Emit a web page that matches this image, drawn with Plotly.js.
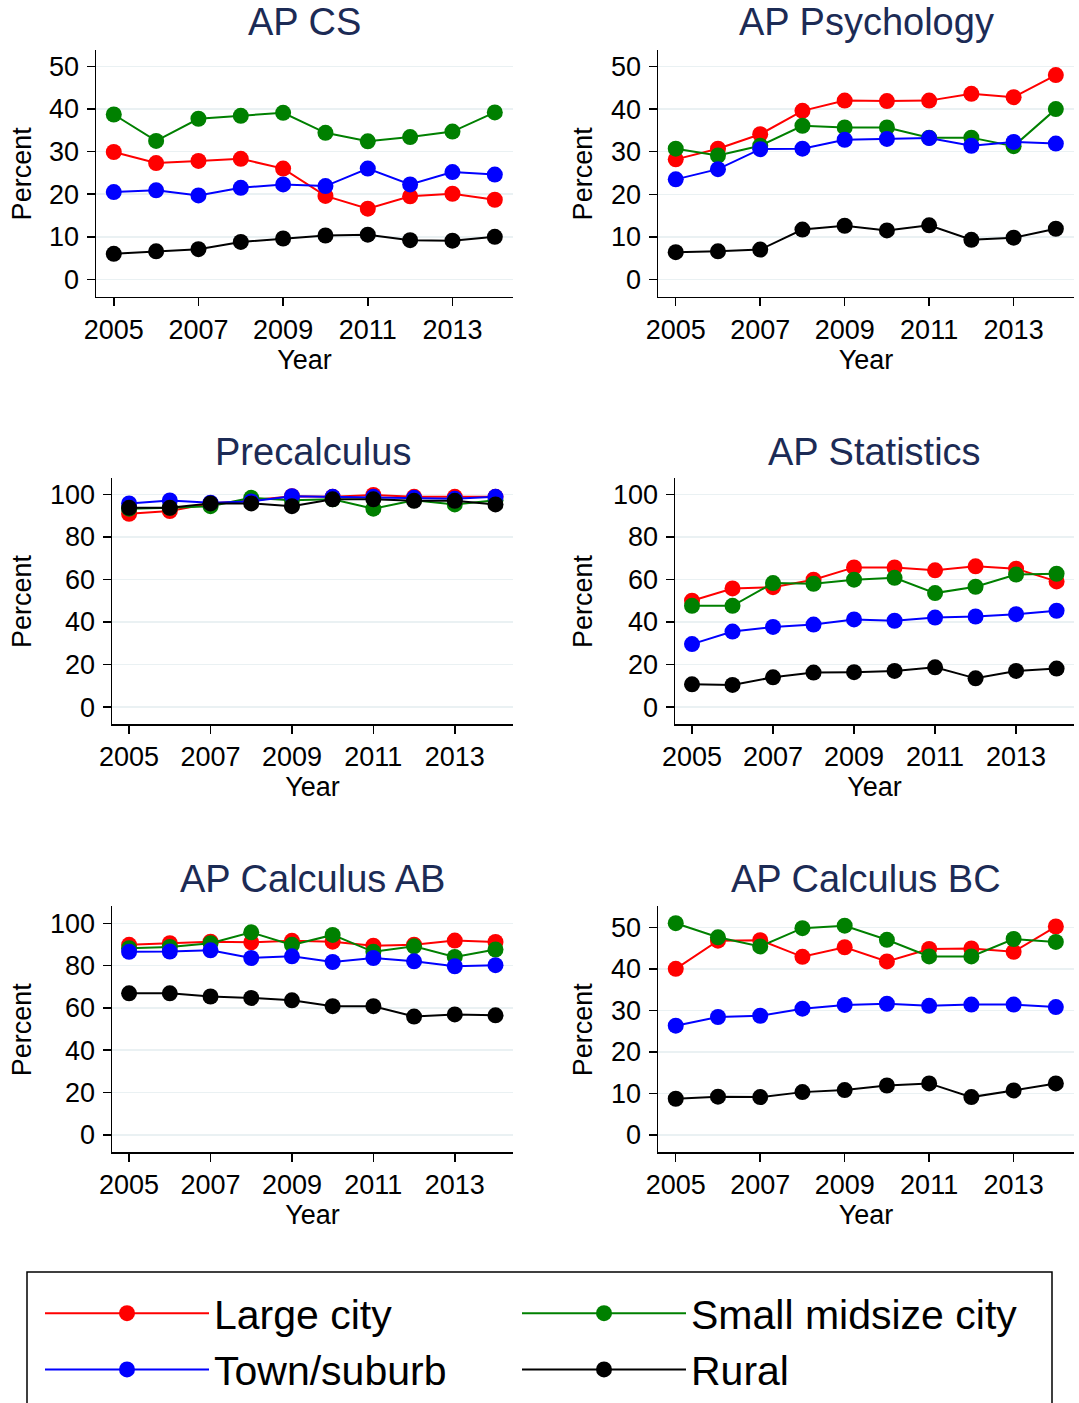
<!DOCTYPE html>
<html>
<head>
<meta charset="utf-8">
<script src="https://cdn.plot.ly/plotly-3.0.1.min.js"></script>
<style>html,body{margin:0;padding:0;background:#fff;}#chart{width:1079px;height:1403px;}</style>
</head>
<body>
<div id="chart"></div>
<script>
// ---------- data ----------
var years = [2005, 2006, 2007, 2008, 2009, 2010, 2011, 2012, 2013, 2014];
var seriesNames = ["Large city", "Small midsize city", "Town/suburb", "Rural"];
var seriesColors = ["#ff0000", "#008000", "#0000ff", "#000000"];
var seriesLegend = ["legend", "legend2", "legend", "legend2"];
var panelTitles = ["AP CS", "AP Psychology", "Precalculus", "AP Statistics", "AP Calculus AB", "AP Calculus BC"];

var csLarge = [29.9, 27.3, 27.8, 28.3, 26.0, 19.6, 16.6, 19.5, 20.1, 18.7];
var csSmall = [38.7, 32.5, 37.7, 38.4, 39.1, 34.4, 32.4, 33.4, 34.7, 39.2];
var csTown  = [20.5, 20.9, 19.7, 21.5, 22.3, 21.9, 26.0, 22.3, 25.2, 24.6];
var csRural = [6.0, 6.6, 7.1, 8.8, 9.6, 10.3, 10.5, 9.2, 9.1, 10.0];

var psyLarge = [28.2, 30.7, 34.1, 39.6, 42.0, 41.9, 42.0, 43.6, 42.8, 48.0];
var psySmall = [30.7, 29.1, 31.4, 36.1, 35.7, 35.7, 33.3, 33.3, 31.3, 40.0];
var psyTown  = [23.5, 25.9, 30.6, 30.7, 32.8, 33.0, 33.2, 31.4, 32.3, 31.9];
var psyRural = [6.4, 6.6, 7.0, 11.7, 12.6, 11.5, 12.7, 9.3, 9.8, 11.9];

var preLarge = [90.9, 92.2, 95.8, 97.2, 99.2, 98.9, 99.8, 98.9, 98.9, 98.9];
var preSmall = [93.3, 93.7, 94.5, 98.4, 97.3, 97.7, 93.3, 97.3, 95.3, 97.3];
var preTown  = [95.8, 97.2, 96.1, 96.7, 99.2, 98.9, 98.9, 98.4, 98.0, 98.9];
var preRural = [93.7, 93.7, 95.8, 95.8, 94.5, 97.7, 97.7, 97.0, 97.0, 95.3];

var statLarge = [50.0, 55.8, 56.4, 59.9, 65.7, 65.7, 64.3, 66.2, 65.1, 59.1];
var statSmall = [47.6, 47.6, 58.3, 58.0, 59.9, 60.8, 53.6, 56.6, 62.3, 62.7];
var statTown  = [29.6, 35.5, 37.7, 38.8, 41.2, 40.6, 42.1, 42.6, 43.7, 45.3];
var statRural = [10.7, 10.4, 14.0, 16.2, 16.4, 17.0, 18.7, 13.5, 17.0, 18.1];

var abLarge = [89.8, 90.6, 91.3, 91.0, 91.7, 91.3, 89.4, 89.9, 91.8, 91.2];
var abSmall = [88.2, 88.8, 90.6, 95.7, 89.8, 94.5, 86.5, 89.1, 84.1, 87.6];
var abTown  = [86.5, 86.6, 87.2, 83.6, 84.4, 81.7, 83.6, 82.0, 79.7, 80.2];
var abRural = [66.9, 66.9, 65.4, 64.7, 63.6, 60.8, 60.8, 55.9, 56.9, 56.5];

var bcLarge = [40.0, 46.8, 46.9, 42.9, 45.2, 41.8, 44.8, 44.9, 44.1, 50.2];
var bcSmall = [51.0, 47.6, 45.4, 49.8, 50.4, 47.0, 43.0, 43.0, 47.2, 46.5];
var bcTown  = [26.3, 28.4, 28.7, 30.4, 31.3, 31.6, 31.1, 31.4, 31.4, 30.8];
var bcRural = [8.7, 9.2, 9.1, 10.3, 10.8, 11.9, 12.4, 9.1, 10.7, 12.4];

var panelSeries = [
  [csLarge, csSmall, csTown, csRural],
  [psyLarge, psySmall, psyTown, psyRural],
  [preLarge, preSmall, preTown, preRural],
  [statLarge, statSmall, statTown, statRural],
  [abLarge, abSmall, abTown, abRural],
  [bcLarge, bcSmall, bcTown, bcRural]
];
var yTickStep = [10, 10, 20, 20, 20, 10];
var yRanges = [[-4.08, 53.85], [-4.09, 53.9], [-8.2, 107.9], [-8.2, 107.9], [-8.2, 108], [-4.17, 55.06]];

// ---------- layout geometry (pixels) ----------
var W = 1079, H = 1403;
var boxes = [
  {l: 96,  r: 513,  t: 50,  b: 297},
  {l: 658, r: 1074, t: 50,  b: 297},
  {l: 112, r: 513,  t: 478, b: 725},
  {l: 675, r: 1074, t: 478, b: 725},
  {l: 112, r: 513,  t: 907, b: 1153},
  {l: 658, r: 1074, t: 907, b: 1153}
];
var titleY = [22, 22, 452, 452, 880, 880];
var percentX = [22, 583, 22, 583, 22, 583];

var FONT = "Liberation Sans, Arial, sans-serif";
var legendCommon = {
  orientation: "v",
  y: 1 - 1281 / H, yanchor: "top", xanchor: "left",
  borderwidth: 0,
  bgcolor: "rgba(255,255,255,0)",
  font: {family: FONT, size: 41, color: "#000000"},
  itemwidth: 164,
  tracegroupgap: 0,
  traceorder: "normal"
};
var traces = [];
var layout = {
  width: W, height: H,
  margin: {l: 0, r: 0, t: 0, b: 0},
  paper_bgcolor: "#ffffff",
  plot_bgcolor: "#ffffff",
  font: {family: FONT, color: "#000000", size: 27},
  showlegend: true,
  legend: Object.assign({}, legendCommon, {x: 40 / W}),
  legend2: Object.assign({}, legendCommon, {x: 517 / W}),
  shapes: [{
    type: "rect", xref: "paper", yref: "paper",
    x0: 27 / W, x1: 1052 / W, y0: 1 - 1415 / H, y1: 1 - 1273 / H,
    line: {color: "#000000", width: 1.5}, fillcolor: "rgba(0,0,0,0)", layer: "below"
  }],
  annotations: []
};

for (var p = 0; p < 6; p++) {
  var sfx = p === 0 ? "" : String(p + 1);
  var b = boxes[p];
  for (var s = 0; s < 4; s++) {
    traces.push({
      type: "scatter", mode: "lines+markers",
      x: years, y: panelSeries[p][s],
      name: seriesNames[s],
      legend: seriesLegend[s],
      showlegend: p === 0,
      line: {color: seriesColors[s], width: 2},
      marker: {color: seriesColors[s], size: 16},
      xaxis: "x" + sfx, yaxis: "y" + sfx,
      cliponaxis: false
    });
  }
  layout["xaxis" + sfx] = {
    domain: [b.l / W, b.r / W],
    anchor: "y" + sfx,
    range: [2004.58, 2014.43],
    tickmode: "linear", tick0: 2005, dtick: 2,
    ticks: "outside", ticklen: 8, tickwidth: 1.5, tickcolor: "#000000",
    showline: true, linecolor: "#000000", linewidth: 1.5,
    showgrid: false, zeroline: false,
    tickfont: {family: FONT, size: 27, color: "#000000"},
    ticklabelstandoff: 0,
    title: {text: "Year", font: {family: FONT, size: 27, color: "#000000"}, standoff: 0},
    fixedrange: true
  };
  layout["yaxis" + sfx] = {
    domain: [1 - b.b / H, 1 - b.t / H],
    anchor: "x" + sfx,
    range: yRanges[p],
    tickmode: "linear", tick0: 0, dtick: yTickStep[p],
    ticks: "outside", ticklen: 8, tickwidth: 1.5, tickcolor: "#000000",
    showline: true, linecolor: "#000000", linewidth: 1.5,
    showgrid: true, gridcolor: "#eaf1f3", gridwidth: 1.5,
    zeroline: false,
    tickfont: {family: FONT, size: 27, color: "#000000"},
    ticklabelstandoff: 2,
    fixedrange: true
  };
  layout.annotations.push({
    text: panelTitles[p], xref: "paper", yref: "paper",
    x: (b.l + b.r) / 2 / W, y: 1 - titleY[p] / H,
    xanchor: "center", yanchor: "middle", showarrow: false,
    font: {family: FONT, size: 38, color: "#1c2b55"}
  });
  layout.annotations.push({
    text: "Percent", xref: "paper", yref: "paper",
    x: percentX[p] / W, y: 1 - (b.t + b.b) / 2 / H,
    xanchor: "center", yanchor: "middle", showarrow: false, textangle: -90,
    font: {family: FONT, size: 27, color: "#000000"}
  });
}

Plotly.newPlot("chart", traces, layout, {displayModeBar: false, staticPlot: true});
</script>
</body>
</html>
